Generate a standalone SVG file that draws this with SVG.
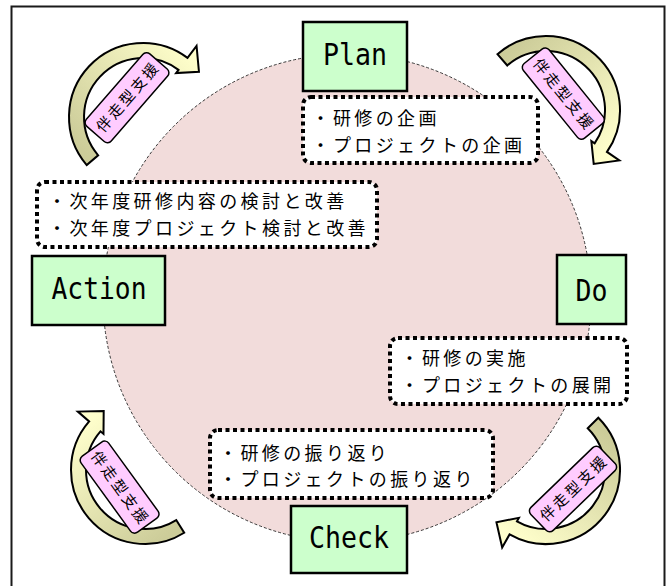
<svg xmlns="http://www.w3.org/2000/svg" width="671" height="586" viewBox="0 0 671 586">
<defs>
<style>
.frame{fill:#fff;stroke:#1a1a1a;stroke-width:2}
.cycle{fill:#f2dcdb;stroke:#222;stroke-width:0.9;stroke-dasharray:3 2}
.phase{fill:#ccffcc;stroke:#000;stroke-width:2.5}
.phase-t{font-family:"DejaVu Sans Mono","Liberation Mono",monospace;font-size:31px;fill:#000;text-anchor:middle}
.note{fill:#fff;stroke:#000;stroke-width:4;stroke-dasharray:4 3.5}
.note-t{font-family:"Noto Sans CJK JP","Noto Sans",sans-serif;font-size:18px;letter-spacing:3.4px;fill:#000}
.arrow{stroke:#000;stroke-width:2;stroke-linejoin:miter}
.lab{fill:#ffccff;stroke:#000;stroke-width:1.5}
.lab-t{font-family:"Noto Sans CJK JP",sans-serif;font-size:15px;letter-spacing:2.5px;text-anchor:middle;fill:#000}
</style>
<linearGradient id="gTL" gradientUnits="userSpaceOnUse" x1="92" y1="160" x2="199" y2="60"><stop offset="0" stop-color="#cccc99"/><stop offset="1" stop-color="#ffffcc"/></linearGradient>
<linearGradient id="gTR" gradientUnits="userSpaceOnUse" x1="502" y1="60" x2="600" y2="160"><stop offset="0" stop-color="#cccc99"/><stop offset="1" stop-color="#ffffcc"/></linearGradient>
<linearGradient id="gBL" gradientUnits="userSpaceOnUse" x1="180" y1="526" x2="95" y2="415"><stop offset="0" stop-color="#cccc99"/><stop offset="1" stop-color="#ffffcc"/></linearGradient>
<linearGradient id="gBR" gradientUnits="userSpaceOnUse" x1="593" y1="423" x2="505" y2="530"><stop offset="0" stop-color="#cccc99"/><stop offset="1" stop-color="#ffffcc"/></linearGradient>
</defs>

<rect class="frame" x="11.5" y="6.5" width="653" height="600"/>
<circle class="cycle" cx="347" cy="298" r="244"/>

<g id="connectors">
<path class="arrow" fill="url(#gTL)" d="M86.73 165.06 A74 74 0 0 1 187.53 57.9 L196.56 45.92 L198.95 71.69 L176.1 73.08 L178.51 69.88 A59 59 0 0 0 98.14 155.31 Z"/>
<path class="arrow" fill="url(#gTR)" d="M497.45 54.15 A74 74 0 0 1 606.98 151.91 L619.34 160.41 L593.71 163.93 L591.33 141.15 L594.62 143.42 A59 59 0 0 0 507.29 65.47 Z"/>
<path class="arrow" fill="url(#gBL)" d="M184.21 532.75 A74 74 0 0 1 89.15 421.45 L77.83 411.61 L103.7 411.02 L103.49 433.91 L100.47 431.29 A59 59 0 0 0 176.26 520.03 Z"/>
<path class="arrow" fill="url(#gBR)" d="M598.33 417.67 A74 74 0 0 1 509.56 534.41 L502.18 547.47 L496.44 522.23 L518.92 517.87 L516.95 521.35 A59 59 0 0 0 587.72 428.28 Z"/>
</g>

<g id="label-tl" transform="translate(127 97.7) rotate(-49)">
<rect class="lab" x="-48" y="-16.5" width="96" height="33" rx="5"/>
<text class="lab-t" x="1.25" y="5.5">伴走型支援</text>
</g>
<g id="label-tr" transform="translate(563.3 93.6) rotate(51)">
<rect class="lab" x="-48" y="-16.5" width="96" height="33" rx="5"/>
<text class="lab-t" x="1.25" y="5.5">伴走型支援</text>
</g>
<g id="label-bl" transform="translate(119.6 487.1) rotate(54)">
<rect class="lab" x="-47" y="-17" width="94" height="34" rx="5"/>
<text class="lab-t" x="1.25" y="5.5">伴走型支援</text>
</g>
<g id="label-br" transform="translate(573 489) rotate(-44)">
<rect class="lab" x="-48" y="-16" width="96" height="32" rx="5"/>
<text class="lab-t" x="1.25" y="5.5">伴走型支援</text>
</g>

<g id="note-plan">
<rect class="note" x="303" y="97" width="235" height="66" rx="8"/>
<text class="note-t" x="311.5" y="124.5">・研修の企画</text>
<text class="note-t" x="311.5" y="151.5">・プロジェクトの企画</text>
</g>
<g id="note-action">
<rect class="note" x="37" y="182" width="340" height="65" rx="8"/>
<text class="note-t" x="48" y="208">・次年度研修内容の検討と改善</text>
<text class="note-t" x="48" y="234.7">・次年度プロジェクト検討と改善</text>
</g>
<g id="note-do">
<rect class="note" x="390" y="338" width="237" height="66" rx="8"/>
<text class="note-t" x="400.5" y="364.5">・研修の実施</text>
<text class="note-t" x="400.5" y="391.5">・プロジェクトの展開</text>
</g>
<g id="note-check">
<rect class="note" x="210" y="430" width="283" height="68" rx="8"/>
<text class="note-t" x="219" y="459.5">・研修の振り返り</text>
<text class="note-t" x="219" y="486">・プロジェクトの振り返り</text>
</g>

<g id="plan">
<rect class="phase" x="303" y="22" width="104" height="69"/>
<text class="phase-t" x="355" y="65" textLength="64" lengthAdjust="spacingAndGlyphs">Plan</text>
</g>
<g id="action">
<rect class="phase" x="32" y="256" width="133" height="69"/>
<text class="phase-t" x="99" y="299" textLength="95" lengthAdjust="spacingAndGlyphs">Action</text>
</g>
<g id="do">
<rect class="phase" x="557" y="255" width="69" height="69"/>
<text class="phase-t" x="591.5" y="300.5" textLength="32" lengthAdjust="spacingAndGlyphs">Do</text>
</g>
<g id="check">
<rect class="phase" x="291" y="506" width="116" height="67"/>
<text class="phase-t" x="349" y="548" textLength="80" lengthAdjust="spacingAndGlyphs">Check</text>
</g>
</svg>
